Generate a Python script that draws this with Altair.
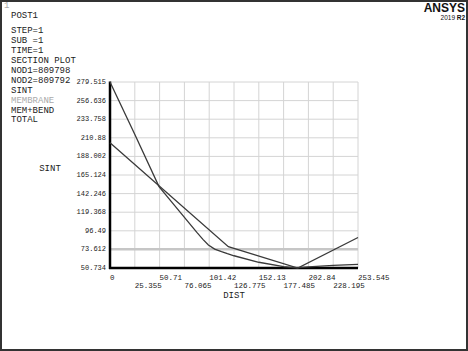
import altair as alt
import pandas as pd

# ---- data ----
x_ticks = [0, 25.355, 50.71, 76.065, 101.42, 126.775, 152.13, 177.485, 202.84, 228.195, 253.545]
x_labels = ["0", "25.355", "50.71", "76.065", "101.42", "126.775", "152.13", "177.485", "202.84", "228.195", "253.545"]
y_ticks = [279.515, 256.636, 233.758, 210.88, 188.002, 165.124, 142.246, 119.368, 96.49, 73.612, 50.734]
y_labels = ["279.515", "256.636", "233.758", "210.88", "188.002", "165.124", "142.246", "119.368", "96.49", "73.612", "50.734"]

total_x = [0, 25.4, 50.1, 63.4, 76.1, 88.8, 95.0, 100.6, 107.0, 114.0, 120.0, 126.8, 152.1, 177.5, 190.2, 202.8, 228.2, 253.545]
total_y = [279.515, 215.0, 150.9, 131.5, 113.0, 94.5, 86.0, 79.0, 74.0, 70.8, 68.3, 65.8, 57.8, 52.5, 50.9, 52.0, 54.0, 55.3]

memben_x = [0, 121.0, 192.0, 253.545]
memben_y = [204.9, 76.9, 50.7, 88.3]

membrane_x = [0, 253.545]
membrane_y = [73.9, 73.9]

header_lines = ["STEP=1", "SUB =1", "TIME=1", "SECTION PLOT", "NOD1=809798", "NOD2=809792",
                "SINT", "MEMBRANE", "MEM+BEND", "TOTAL"]

rows = []
for name, xs_, ys_ in [("TOTAL", total_x, total_y), ("MEM+BEND", memben_x, memben_y),
                       ("MEMBRANE", membrane_x, membrane_y)]:
    for i, (a, b) in enumerate(zip(xs_, ys_)):
        rows.append({"series": name, "dist": a, "sint": b, "order": i})
df = pd.DataFrame(rows)

xtick_df = pd.DataFrame({"value": x_ticks, "label": x_labels,
                         "row": [i % 2 for i in range(len(x_ticks))]})
ytick_df = pd.DataFrame({"value": y_ticks, "label": y_labels})

MONO = "Liberation Mono"
W, H = 248, 186
PL, PT = 110, 82
GRID = "#d4d4d4"

xs = alt.Scale(domain=[0, 253.545], nice=False, zero=False)
ys = alt.Scale(domain=[50.734, 279.515], nice=False, zero=False)

X = lambda f: alt.X(f, scale=xs, axis=None)
Y = lambda f: alt.Y(f, scale=ys, axis=None)

vgrid = alt.Chart(xtick_df).mark_rule(color=GRID, strokeWidth=1).encode(
    x=X("value:Q"), y=alt.value(0), y2=alt.value(H))
hgrid = alt.Chart(ytick_df).mark_rule(color=GRID, strokeWidth=1).encode(
    y=Y("value:Q"), x=alt.value(0), x2=alt.value(W))

base = alt.Chart(df)
membrane = base.transform_filter(alt.datum.series == "MEMBRANE").mark_line(
    color="#c6c6c6", strokeWidth=2.5
).encode(x=X("dist:Q"), y=Y("sint:Q"), order="order:Q")
curves = base.transform_filter(alt.datum.series != "MEMBRANE").mark_line(
    color="#3a3a3a", strokeWidth=1.3
).encode(x=X("dist:Q"), y=Y("sint:Q"), detail="series:N", order="order:Q")

left_dom = alt.Chart(pd.DataFrame({"a": [0]})).mark_rule(color="black", strokeWidth=2.5).encode(
    x=alt.value(0), y=alt.value(-0.5), y2=alt.value(H + 1))
bot_dom = alt.Chart(pd.DataFrame({"a": [0]})).mark_rule(color="black", strokeWidth=2.5).encode(
    y=alt.value(H), x=alt.value(-1), x2=alt.value(W))

xlab1 = alt.Chart(xtick_df).transform_filter(alt.datum.row == 0).mark_text(
    align="left", baseline="middle", font=MONO, fontSize=7.5, color="#222"
).encode(x=X("value:Q"), y=alt.value(277.5 - PT), text="label:N")
xlab2 = alt.Chart(xtick_df).transform_filter(alt.datum.row == 1).mark_text(
    align="left", baseline="middle", font=MONO, fontSize=7.5, color="#222"
).encode(x=X("value:Q"), y=alt.value(285.7 - PT), text="label:N")
ylab = alt.Chart(ytick_df).mark_text(
    align="right", baseline="middle", font=MONO, fontSize=7, color="#222"
).encode(y=Y("value:Q"), x=alt.value(-4), text="label:N")

one = pd.DataFrame({"a": [0]})


def txt(s, x, y, size=9, color="#222", align="left", font=MONO, weight="normal", baseline="middle"):
    return alt.Chart(one).mark_text(
        text=s, align=align, baseline=baseline, font=font, fontSize=size,
        color=color, fontWeight=weight
    ).encode(x=alt.value(x - PL), y=alt.value(y - PT))


layers = [vgrid, hgrid, membrane, left_dom, bot_dom, curves, xlab1, xlab2, ylab]
layers.append(txt("1", 4, 5, size=9, color="#aaaaaa"))
layers.append(txt("POST1", 11, 15))
ys_head = [29.5, 39.5, 50, 60, 70, 80, 89.5, 99.5, 109.5, 119]
for s, yy in zip(header_lines, ys_head):
    layers.append(txt(s, 11, yy, color="#aaaaaa" if s == "MEMBRANE" else "#222"))
layers.append(txt("SINT", 50, 168, align="center"))
layers.append(txt("DIST", 234, 295, align="center"))
layers.append(txt("ANSYS", 465, 12, size=12, align="right", font="Liberation Sans",
                  weight="bold", color="#111", baseline="alphabetic"))
layers.append(txt("2019", 455, 19.5, size=6.5, align="right", font="Liberation Sans",
                  color="#111", baseline="alphabetic"))
layers.append(txt("R2", 465, 19.5, size=6.5, align="right", font="Liberation Sans",
                  weight="bold", color="#111", baseline="alphabetic"))

border = alt.Chart(one).mark_rect(fillOpacity=0, stroke="#333333", strokeWidth=2).encode(
    x=alt.value(1 - PL), x2=alt.value(467 - PL), y=alt.value(1 - PT), y2=alt.value(350 - PT)
)
layers.append(border)

chart = alt.layer(*layers).properties(
    width=W, height=H,
    padding={"left": PL, "top": PT, "right": 468 - PL - W, "bottom": 351 - PT - H},
    autosize=alt.AutoSizeParams(type="none"),
    background="white",
).configure_view(strokeWidth=0)

chart.save("out.html", embed_options={"renderer": "svg", "actions": False})
